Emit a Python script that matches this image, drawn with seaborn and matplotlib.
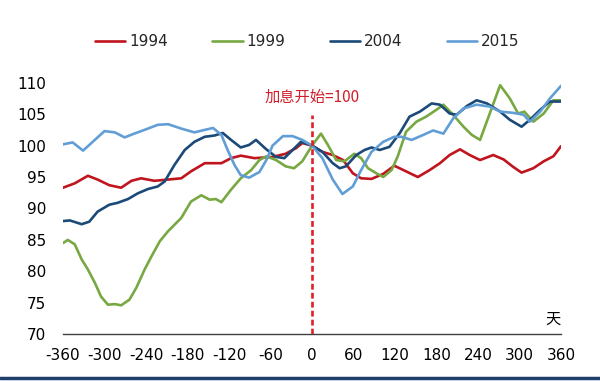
import numpy as np
import pandas as pd
import seaborn as sns
import matplotlib
matplotlib.use("Agg")
import matplotlib.pyplot as plt
from matplotlib.lines import Line2D
from matplotlib.ticker import MultipleLocator

# ---- data (days relative to start of rate hikes, index = 100 at day 0) ----
years = ["1994", "1999", "2004", "2015"]

d94 = [-360, -343, -324, -310, -293, -276, -261, -247, -228, -208, -189, -175, -155, -131, -117,
       -103, -83, -57, -38, -23, -14, 0, 15, 30, 45, 59, 71, 86, 103, 119, 136, 153, 170, 185,
       199, 214, 228, 243, 262, 277, 291, 303, 320, 335, 349, 360]
v94 = [93.3, 94.0, 95.2, 94.6, 93.7, 93.3, 94.4, 94.8, 94.4, 94.6, 94.8, 95.9, 97.2, 97.2, 98.0,
       98.4, 98.0, 98.2, 98.7, 99.6, 100.4, 100.0, 99.0, 98.5, 97.7, 95.6, 94.8, 94.7, 95.5, 96.8,
       95.9, 95.0, 96.1, 97.2, 98.5, 99.4, 98.5, 97.7, 98.5, 97.8, 96.6, 95.7, 96.4, 97.5, 98.3, 99.9]

d99 = [-360, -353, -343, -333, -324, -314, -305, -295, -285, -276, -264, -254, -242, -232, -220,
       -208, -189, -175, -160, -148, -139, -131, -117, -103, -88, -76, -66, -52, -38, -26, -14, 0,
       13, 23, 35, 47, 61, 71, 81, 93, 103, 115, 124, 136, 151, 165, 180, 190, 204, 219, 231, 243,
       257, 272, 286, 298, 307, 320, 335, 349, 360]
v99 = [84.5, 85.0, 84.3, 81.9, 80.3, 78.2, 76.0, 74.7, 74.8, 74.6, 75.5, 77.4, 80.3, 82.4, 84.8,
       86.4, 88.5, 91.1, 92.1, 91.4, 91.5, 91.0, 93.0, 94.8, 96.1, 97.7, 98.3, 97.7, 96.7, 96.4,
       97.5, 100.0, 101.9, 100.1, 97.7, 97.5, 98.7, 98.0, 96.4, 95.6, 95.0, 96.1, 98.3, 102.2,
       103.8, 104.6, 105.7, 106.5, 104.9, 103.0, 101.7, 100.9, 105.1, 109.6, 107.5, 105.1, 105.4,
       103.8, 105.1, 107.2, 107.2]

d04 = [-360, -350, -333, -322, -310, -293, -281, -266, -252, -237, -223, -213, -199, -184, -170,
       -155, -141, -129, -117, -103, -91, -81, -66, -52, -40, -28, -16, 0, 15, 30, 40, 49, 64, 76,
       86, 98, 112, 127, 141, 156, 173, 185, 199, 209, 224, 238, 253, 272, 286, 303, 315, 330, 344,
       360]
v04 = [88.0, 88.1, 87.5, 87.9, 89.5, 90.6, 90.9, 91.5, 92.4, 93.1, 93.5, 94.3, 96.9, 99.3, 100.6,
       101.4, 101.6, 102.0, 100.9, 99.7, 100.1, 100.9, 99.4, 98.2, 98.0, 99.3, 100.6, 100.0, 99.0,
       97.2, 96.4, 96.7, 98.5, 99.3, 99.7, 99.3, 99.8, 102.0, 104.6, 105.4, 106.7, 106.5, 105.1,
       104.9, 106.3, 107.2, 106.7, 105.4, 104.1, 103.0, 104.1, 105.7, 107.0, 107.0]

d15 = [-360, -346, -331, -314, -300, -285, -271, -257, -242, -223, -208, -189, -170, -155, -143,
       -131, -122, -112, -103, -91, -76, -66, -57, -42, -28, -14, 0, 15, 30, 44, 59, 71, 86, 103,
       119, 129, 144, 161, 175, 190, 204, 219, 238, 257, 272, 291, 306, 315, 330, 344, 360]
v15 = [100.2, 100.5, 99.2, 100.9, 102.3, 102.1, 101.3, 101.9, 102.5, 103.3, 103.4, 102.7, 102.1,
       102.5, 102.8, 101.7, 99.3, 96.9, 95.3, 94.9, 95.8, 97.7, 100.0, 101.5, 101.5, 100.9, 100.0,
       98.0, 94.6, 92.3, 93.5, 96.1, 99.0, 100.6, 101.4, 101.4, 100.9, 101.7, 102.4, 101.9, 104.3,
       105.9, 106.5, 106.2, 105.4, 105.2, 104.9, 103.8, 105.4, 107.5, 109.5]

x_ticks = list(range(-360, 361, 60))
y_ticks = list(range(70, 111, 5))
marker_label = "加息开始=100"
unit_label = "天"
marker_top = 104.9

colors = {"1994": "#C0141E", "1999": "#78A842", "2004": "#1B4A78", "2015": "#629ED6"}

df = pd.concat([
    pd.DataFrame({"day": d, "value": v, "year": y})
    for d, v, y in [(d94, v94, "1994"), (d99, v99, "1999"), (d04, v04, "2004"), (d15, v15, "2015")]
], ignore_index=True)

# ---- plot ----
sns.set_style("white")
plt.rcParams["font.family"] = ["DejaVu Sans", "Noto Sans CJK SC"]

fig = plt.figure(figsize=(6, 3.81), dpi=100)
ax = fig.add_axes([0.105, 0.1226, 0.83, 0.6604])

sns.lineplot(data=df, x="day", y="value", hue="year", hue_order=years, palette=colors,
             linewidth=1.9, sort=False, estimator=None, legend=False, ax=ax)

ax.axvline(0, ymin=0, ymax=(marker_top - 70) / 40, color="#E0202A", lw=1.9,
           linestyle=(0, (2.2, 1.2)), zorder=5)
ax.text(0, 107.7, marker_label, ha="center", va="center", color="#D0202A", fontsize=11,
        family=["Noto Sans CJK SC", "DejaVu Sans"])
ax.text(349, 72.3, unit_label, ha="center", va="center", color="black", fontsize=11,
        family=["Noto Sans CJK SC", "DejaVu Sans"])

ax.set_xlim(-360, 360)
ax.set_ylim(70, 110)
ax.set_xticks(x_ticks)
ax.set_xticklabels([str(t) for t in x_ticks])
ax.xaxis.set_minor_locator(MultipleLocator(30))
ax.set_yticks(y_ticks)
ax.set_yticklabels([str(t) for t in y_ticks])
ax.set_xlabel("")
ax.set_ylabel("")

for s in ["top", "right", "left"]:
    ax.spines[s].set_visible(False)
ax.spines["bottom"].set_color("#404040")
ax.spines["bottom"].set_linewidth(1.0)

ax.tick_params(axis="x", which="both", direction="in", length=4, width=0.8, color="#404040",
               labelsize=11, pad=10, labelcolor="black")
ax.tick_params(axis="y", length=0, labelsize=11, pad=12, labelcolor="black")

handles = [Line2D([], [], color=colors[y], lw=1.9) for y in years]
fig.legend(handles, years, loc="center", bbox_to_anchor=(0.512, 0.89), ncol=4, frameon=False,
           fontsize=11, handlelength=2.0, handletextpad=0.25, columnspacing=2.9)

fig.add_artist(Line2D([0, 1], [0.008, 0.008], transform=fig.transFigure, color="#1F3F6E", lw=2.5))

fig.savefig("out.png", dpi=100)
